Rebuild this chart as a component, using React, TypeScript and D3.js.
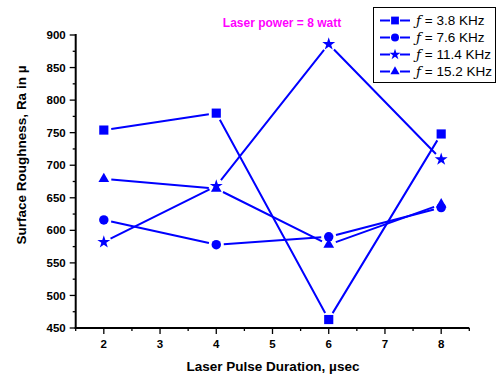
import React from "react";
import * as d3 from "d3";

const durations = [2, 4, 6, 8];
const seriesLabels = ["3.8 KHz", "7.6 KHz", "11.4 KHz", "15.2 KHz"];
const seriesSymbols = ["square", "circle", "star", "triangle"];
const ra38 = [754, 780, 463, 748];
const ra76 = [616, 578, 590, 635];
const ra114 = [582, 668, 886, 709];
const ra152 = [679, 664, 578, 640];
const seriesValues = [ra38, ra76, ra114, ra152];
const yTicks = [450, 500, 550, 600, 650, 700, 750, 800, 850, 900];
const xTicks = [2, 3, 4, 5, 6, 7, 8];

const W = 497;
const H = 376;
const BLUE = "#0000ff";
const FONT = "Liberation Sans, Arial, sans-serif";

const x = d3.scaleLinear().domain([1.5, 8.5]).range([75.7, 469.3]);
const y = d3.scaleLinear().domain([450, 900]).range([328, 35]);

const symbolType: Record<string, d3.SymbolType> = {
  square: d3.symbolSquare,
  circle: d3.symbolCircle,
  star: d3.symbolStar,
  triangle: d3.symbolTriangle,
};
const symbolSize: Record<string, number> = {
  square: 84,
  circle: 70,
  star: 52,
  triangle: 50,
};

function Marker({ kind, cx, cy, scale = 1 }: { kind: string; cx: number; cy: number; scale?: number }) {
  const path = d3.symbol().type(symbolType[kind]).size(symbolSize[kind] * scale * scale)();
  return <path d={path || ""} transform={`translate(${cx},${cy})`} fill={BLUE} />;
}

// Segments stop short of the markers, leaving a small gap around each point
function gappedSegments(values: number[], gap: number) {
  const segs: string[] = [];
  for (let i = 0; i < values.length - 1; i++) {
    const x1 = x(durations[i]);
    const y1 = y(values[i]);
    const x2 = x(durations[i + 1]);
    const y2 = y(values[i + 1]);
    const len = Math.hypot(x2 - x1, y2 - y1);
    const ux = (x2 - x1) / len;
    const uy = (y2 - y1) / len;
    segs.push(`M${x1 + ux * gap},${y1 + uy * gap}L${x2 - ux * gap},${y2 - uy * gap}`);
  }
  return segs.join("");
}

export default function App() {
  const yMinor = d3.range(450, 901, 25);
  const xMinor = d3.range(1.5, 8.51, 0.5);
  return (
    <svg width={W} height={H} style={{ position: "absolute", left: 0, top: 0, background: "#fff" }}>
      {/* axes */}
      <line x1={x.range()[0]} x2={x.range()[0]} y1={y(900) - 1} y2={y(450) + 1} stroke="#000" strokeWidth={2} />
      <line x1={x.range()[0] - 1} x2={x.range()[1]} y1={y(450)} y2={y(450)} stroke="#000" strokeWidth={2} />
      {yMinor.map((v) => (
        <line key={"ym" + v} x1={x.range()[0]} x2={x.range()[0] - (v % 50 === 0 ? 6 : 3)} y1={y(v)} y2={y(v)} stroke="#000" strokeWidth={1.3} />
      ))}
      {xMinor.map((v) => (
        <line key={"xm" + v} y1={y(450)} y2={y(450) + (Number.isInteger(v) ? 6 : 3)} x1={x(v)} x2={x(v)} stroke="#000" strokeWidth={1.3} />
      ))}
      {yTicks.map((v) => (
        <text key={"yt" + v} x={x.range()[0] - 10} y={y(v)} dy="0.36em" textAnchor="end" fontFamily={FONT} fontWeight="bold" fontSize={11.5} fill="#000">
          {v}
        </text>
      ))}
      {xTicks.map((v) => (
        <text key={"xt" + v} x={x(v)} y={y(450) + 20} textAnchor="middle" fontFamily={FONT} fontWeight="bold" fontSize={11.5} fill="#000">
          {v}
        </text>
      ))}
      <text x={273} y={371} textAnchor="middle" fontFamily={FONT} fontWeight="bold" fontSize={13.5} fill="#000">
        Laser Pulse Duration, µsec
      </text>
      <text transform="translate(26,155) rotate(-90)" textAnchor="middle" fontFamily={FONT} fontWeight="bold" fontSize={13.5} fill="#000">
        Surface Roughness, Ra in µ
      </text>
      <text x={282} y={27} textAnchor="middle" fontFamily={FONT} fontWeight="bold" fontSize={12} fill="#ff00ff">
        Laser power = 8 watt
      </text>

      {/* series */}
      {seriesValues.map((vals, si) => (
        <g key={"s" + si}>
          <path d={gappedSegments(vals, 7.5)} stroke={BLUE} strokeWidth={2} fill="none" />
          {vals.map((v, i) => (
            <Marker key={i} kind={seriesSymbols[si]} cx={x(durations[i])} cy={y(v)} />
          ))}
        </g>
      ))}

      {/* legend */}
      <rect x={373.5} y={7.5} width={122} height={75} fill="#fff" stroke="#000" strokeWidth={1} />
      {seriesLabels.map((lab, i) => {
        const ly = 20.5 + i * 17;
        return (
          <g key={"lg" + i}>
            <line x1={380} x2={390} y1={ly} y2={ly} stroke={BLUE} strokeWidth={2} />
            <line x1={400} x2={410} y1={ly} y2={ly} stroke={BLUE} strokeWidth={2} />
            <Marker kind={seriesSymbols[i]} cx={395} cy={ly} scale={0.85} />
            <text x={416} y={ly} dy="0.36em" fontFamily={FONT} fontSize={13.5} fill="#000">
              <tspan fontStyle="italic" fontFamily="DejaVu Serif, serif">ƒ</tspan> = {lab}
            </text>
          </g>
        );
      })}
    </svg>
  );
}
